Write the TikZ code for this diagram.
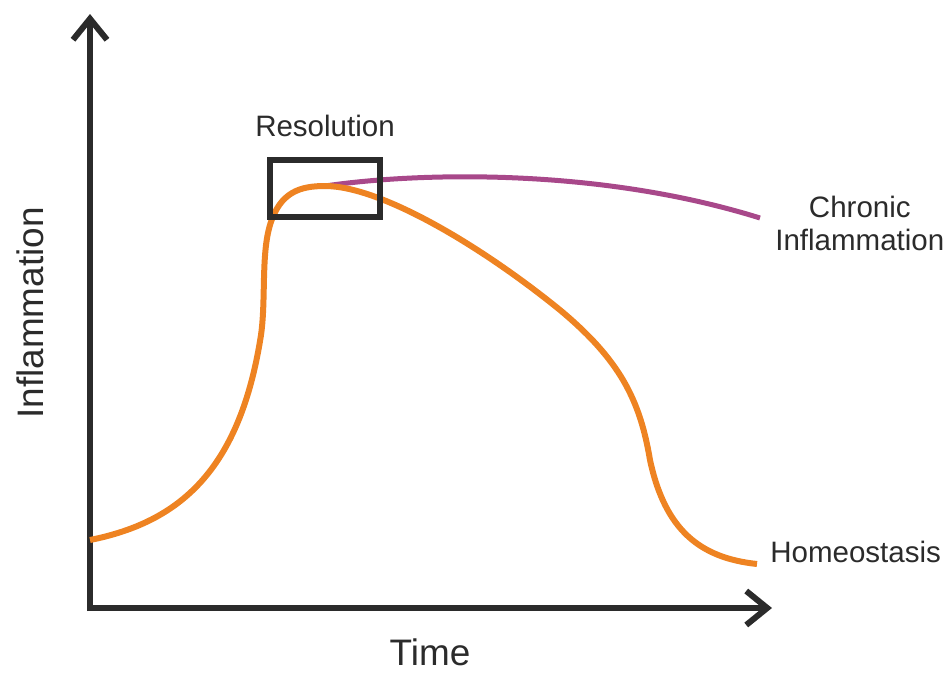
\documentclass[tikz,border=0pt]{standalone}
\usepackage{fontspec}
\setmainfont{Liberation Sans}
\usepackage{tikz}
\usetikzlibrary{arrows.meta, positioning}
\definecolor{axisgray}{HTML}{2B2B2B}
\definecolor{acuteorange}{HTML}{EE8322}
\definecolor{chronicpurple}{HTML}{A8488A}
\tikzset{
	axisline/.style={draw=axisgray, line width=0.12cm, line cap=butt, -{Straight Barb[length=0.42cm, width=0.68cm, line width=0.12cm]}},
	curvelabel/.style={text=axisgray, font=\fontsize{16.8}{18.8}\selectfont, align=center, inner sep=0pt},
	axislabel/.style={text=axisgray, font=\fontsize{21}{24}\selectfont, inner sep=0pt}
}

\begin{document}
\begin{tikzpicture}[x=0.02cm, y=-0.02cm]
	
	\useasboundingbox (0,0) rectangle (948,673);
	
	% Achsen
	\coordinate (origin) at (90,608);
	\coordinate (ytop) at (90,14);
	\coordinate (xend) at (772,608);
	\draw[axisline] ([yshift=-0.06cm]origin) -- (ytop);
	\draw[axisline] ([xshift=-0.06cm]origin) -- (xend);
	
	\node[axislabel] (timelabel) at (430,652) {Time};
	\node[axislabel, rotate=90] (inflabel) at (30,313) {Inflammation};
	
	% Chronischer Verlauf
	\coordinate (peak) at (325,186);
	\draw[chronicpurple, line width=0.1cm]
	(peak) .. controls (420,172) and (600,168) .. (760,218) coordinate (chronicend);
	
	% Akuter Verlauf
	\draw[acuteorange, line width=0.12cm]
	(90,540) .. controls (180,522) and (240,470) .. (261,335)
	.. controls (266,300) and (261,255) .. (270,225)
	.. controls (280,192) and (300,186) .. (peak)
	.. controls (380,186) and (480,245) .. (560,310)
	.. controls (620,360) and (640,400) .. (650,460)
	.. controls (665,530) and (700,558) .. (757,564) coordinate (acuteend);
	
	% Resolution
	\node[draw=axisgray, line width=0.12cm, minimum width=2.2cm, minimum height=1.14cm, inner sep=0pt] (resbox) at (325,188.5) {};
	\node[curvelabel, above=0.4cm of resbox] (reslabel) {Resolution};
	
	% Endpunkte
	\node[curvelabel, right=0.3cm of chronicend, yshift=-0.1cm] (chroniclabel) {Chronic\\Inflammation};
	\node[curvelabel, right=0.26cm of acuteend, yshift=0.24cm] (homeolabel) {Homeostasis};
	
\end{tikzpicture}
\end{document}
